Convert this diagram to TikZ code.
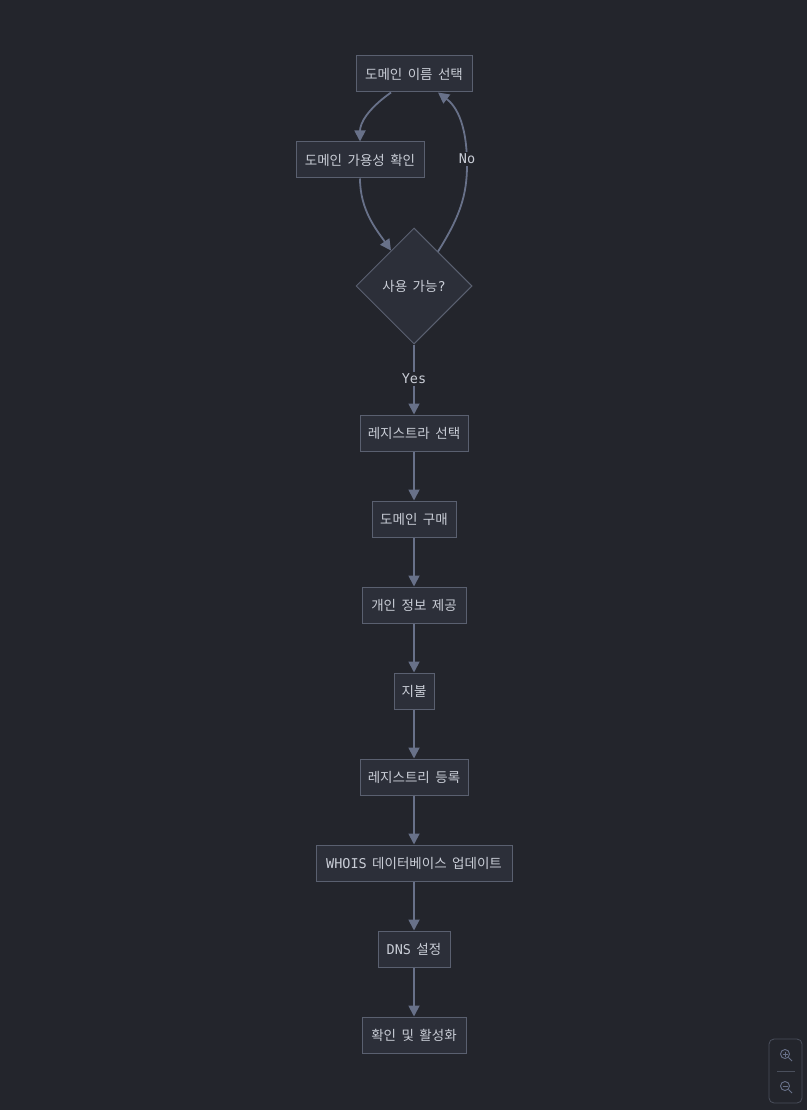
\documentclass[tikz,border=0pt]{standalone}
\usepackage{fontspec}
\setmainfont[WordSpace=1.8]{Noto Sans CJK KR}
\newfontfamily\lat{DejaVu Sans Mono}
\newcommand{\la}[1]{{\lat #1}}
\usetikzlibrary{arrows.meta,shapes.geometric}
\definecolor{bg}{HTML}{23252C}
\definecolor{nodefill}{HTML}{2C2F39}
\definecolor{nodeline}{HTML}{5A6070}
\definecolor{edgecol}{HTML}{687189}
\definecolor{txt}{HTML}{C9CDD6}
\definecolor{widget}{HTML}{4A4F5C}
\tikzset{
  box/.style={draw=nodeline, fill=nodefill, line width=1pt, text=txt, font=\fontsize{13.5}{15}\selectfont, minimum height=36pt, inner sep=0pt, anchor=center},
  dia/.style={diamond, draw=nodeline, fill=nodefill, line width=1pt, text=txt, font=\fontsize{13.5}{15}\selectfont, minimum width=116pt, minimum height=116pt, inner sep=0pt},
  edge/.style={draw=edgecol, line width=1.8pt, -{Triangle[length=11pt,width=11pt]}},
  elabel/.style={fill=bg, text=txt, font=\lat\fontsize{13.5}{15}\selectfont, inner sep=2pt}
}
\begin{document}
\begin{tikzpicture}[x=1pt,y=-1pt]
\fill[bg] (0,0) rectangle (807,1110);
\useasboundingbox (0,0) rectangle (807,1110);

\node[box, minimum width=116pt] (n1) at (414,74) {도메인 이름 선택};
\node[box, minimum width=128pt] (n2) at (360,160) {도메인 가용성 확인};
\node[dia] (n3) at (414,286) {사용 가능\la{?}};
\node[box, minimum width=108pt] (n4) at (414,433) {레지스트라 선택};
\node[box, minimum width=84pt] (n5) at (414,519) {도메인 구매};
\node[box, minimum width=104pt] (n6) at (414,605) {개인 정보 제공};
\node[box, minimum width=40pt] (n7) at (414,691) {지불};
\node[box, minimum width=108pt] (n8) at (414,777) {레지스트리 등록};
\node[box, minimum width=196pt] (n9) at (414,863) {\la{WHOIS} 데이터베이스 업데이트};
\node[box, minimum width=72pt] (n10) at (414,949) {\la{DNS} 설정};
\node[box, minimum width=104pt] (n11) at (414,1035) {확인 및 활성화};

\draw[edge] ([xshift=-23pt]n1.south) .. controls +(-24,17) and +(0,-18) .. (n2.north);
\draw[edge] (n2.south) .. controls +(0,32) and +(-14,-20) .. ([xshift=-23pt,yshift=-23pt]n3.north);
\draw[edge] ([xshift=24pt,yshift=-24pt]n3.north) .. controls +(22,-35) and +(0,30) .. (467,165) coordinate (nomid) .. controls +(0,-45) and +(16,12) .. ([xshift=24pt]n1.south);
\node[elabel] (lno) at (467,159) {No};
\draw[edge] (n3.south) -- (n4.north);
\node[elabel] (lyes) at (414,379) {Yes};
\draw[edge] (n4) -- (n5);
\draw[edge] (n5) -- (n6);
\draw[edge] (n6) -- (n7);
\draw[edge] (n7) -- (n8);
\draw[edge] (n8) -- (n9);
\draw[edge] (n9) -- (n10);
\draw[edge] (n10) -- (n11);

% zoom widget
\draw[widget, line width=0.8pt, rounded corners=5pt] (769,1039) rectangle (802,1103);
\draw[widget, line width=0.8pt] (777,1071) -- (795,1071);
\begin{scope}[draw=edgecol, line width=0.9pt]
\draw (785,1054) circle (4.5);
\draw (788.5,1057.5) -- (792,1061);
\draw (782.5,1054) -- (787.5,1054) (785,1051.5) -- (785,1056.5);
\draw (785,1086) circle (4.5);
\draw (788.5,1089.5) -- (792,1093);
\draw (782.5,1086) -- (787.5,1086);
\end{scope}
\end{tikzpicture}
\end{document}
